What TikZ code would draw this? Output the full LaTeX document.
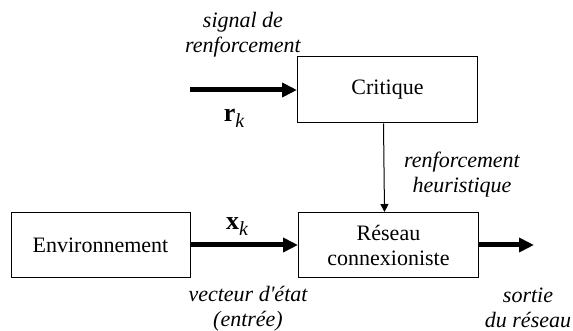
\documentclass[tikz,border=0pt]{standalone}
\usepackage{fontspec}
\setmainfont{Liberation Serif}
\usetikzlibrary{arrows.meta}
\tikzset{
  txt/.style={font=\fontsize{22}{25}\selectfont, inner sep=0pt, align=center},
  lbl/.style={txt, font=\fontsize{22}{25}\selectfont\itshape},
  blockbox/.style={draw, line width=1pt, rectangle, txt},
  thick arrow/.style={line width=5pt, -{Triangle[length=15pt,width=14pt]}},
  thin arrow/.style={line width=1pt, -{Triangle[length=8pt,width=8pt]}},
}
\newcommand{\vecsym}[1]{{\fontsize{26}{26}\selectfont\bfseries #1}\raisebox{-6pt}{\fontsize{20}{20}\selectfont\itshape k}}
\begin{document}
\begin{tikzpicture}[x=1pt,y=-1pt]
\useasboundingbox (0,0) rectangle (573,331);
\node[blockbox, minimum width=180pt, minimum height=66pt] (crit) at (387.5,90) {Critique};
\node[blockbox, minimum width=180pt, minimum height=65pt] (res) at (388.5,245) {Réseau\\connexioniste};
\node[blockbox, minimum width=179pt, minimum height=65pt] (env) at (100.5,245) {Environnement};
\coordinate (rin) at (190,90);
\coordinate (out) at (534,245);
\draw[thick arrow] (rin) -- (crit.west);
\draw[thick arrow] (env.east) -- (res.west);
\draw[thick arrow] (res.east) -- (out);
\draw[thin arrow] ([xshift=-4pt]crit.south) -- ([xshift=-4pt]res.north);
\node[lbl] (sig) at (243,35) {signal de\\renforcement};
\node[txt] (rk) at (234,118) {\vecsym{r}};
\node[lbl] (heur) at (462,175) {renforcement\\heuristique};
\node[txt] (xk) at (237,227) {\vecsym{x}};
\node[lbl] (vec) at (248,309) {vecteur d\textquotesingle état\\(entrée)};
\node[lbl] (sort) at (528,308) {sortie\\du réseau};
\end{tikzpicture}
\end{document}
